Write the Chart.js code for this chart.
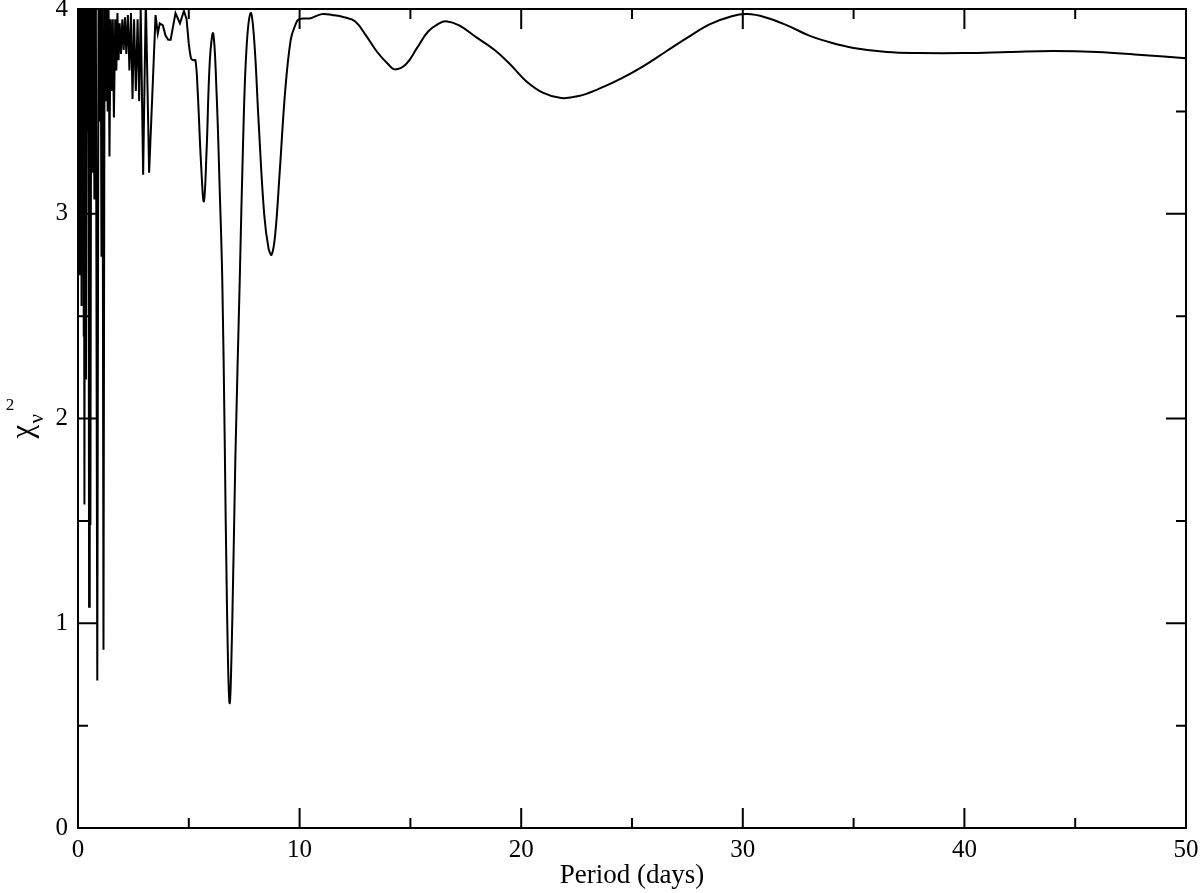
<!DOCTYPE html>
<html><head><meta charset="utf-8">
<script src="https://cdn.jsdelivr.net/npm/chart.js@4.4.1/dist/chart.umd.min.js"></script>
<style>html,body{margin:0;padding:0;background:#fff}#wrap{width:1200px;height:893px;position:relative}</style>
</head><body><div id="wrap"><canvas id="c"></canvas></div>
<script>
// Period (days)
const periods = [
 0.00,0.03,0.05,0.07,0.10,0.12,0.14,0.16,0.19,0.21,0.23,0.25,0.27,0.29,0.32,0.36,0.40,0.44,0.47,0.50,
 0.53,0.56,0.60,0.65,0.69,0.74,0.80,0.87,0.93,0.98,1.02,1.06,1.10,1.15,1.20,1.25,1.30,1.34,1.38,1.42,
 1.47,1.52,1.57,1.62,1.68,1.73,1.78,1.83,1.88,1.94,2.00,2.06,2.12,2.18,2.25,2.32,2.39,2.46,2.53,2.61,
 2.69,2.76,2.83,2.94,3.06,3.21,3.50,3.60,3.69,3.83,3.95,4.07,4.18,4.40,4.60,4.78,4.90,5.00,5.10,5.20,
 5.30,5.40,5.55,5.68,5.80,5.95,6.10,6.25,6.40,6.51,6.62,6.72,6.84,6.96,7.10,7.30,7.45,7.60,7.79,7.95,
 8.15,8.40,8.60,8.74,8.90,9.10,9.35,9.60,9.80,9.97,10.5,11.0,11.5,12.0,12.5,13.0,13.5,14.0,14.3,14.8,
 15.3,15.8,16.3,16.6,17.2,18.0,18.8,19.5,20.2,21.0,21.8,22.6,23.5,24.5,25.5,26.5,27.5,28.5,29.5,30.2,
 31.0,32.0,33.0,34.0,35.0,36.5,38.0,40.0,42.0,44.0,46.0,48.0,50.0
];
// Reduced chi-square
const chi2 = [
 4.30,3.40,4.30,2.70,4.30,3.00,4.30,2.55,4.30,3.10,4.30,2.40,4.30,1.58,4.30,2.19,4.30,3.40,4.30,1.08,
 4.30,1.48,4.30,3.20,4.30,3.07,4.30,0.72,4.30,3.45,4.20,2.79,4.30,0.87,4.10,3.55,4.05,3.50,4.00,3.28,
 3.95,3.60,3.95,3.47,3.95,3.70,3.98,3.75,3.93,3.78,3.95,3.80,3.96,3.78,3.97,3.70,3.98,3.56,3.95,3.60,
 3.95,3.55,4.00,3.19,4.05,3.20,3.97,3.88,3.93,3.92,3.87,3.85,3.85,3.98,3.93,3.99,3.95,3.83,3.76,3.75,
 3.75,3.60,3.25,3.06,3.30,3.75,3.88,3.60,3.10,2.68,1.90,1.10,0.61,1.00,1.80,2.68,3.35,3.80,3.98,3.85,
 3.45,3.00,2.83,2.80,2.90,3.20,3.60,3.85,3.92,3.95,3.955,3.975,3.97,3.96,3.94,3.87,3.79,3.73,3.705,3.73,
 3.81,3.89,3.93,3.94,3.92,3.86,3.80,3.73,3.65,3.59,3.565,3.575,3.61,3.66,3.72,3.79,3.86,3.925,3.965,3.975,
 3.96,3.92,3.87,3.835,3.81,3.79,3.785,3.785,3.79,3.795,3.79,3.775,3.76
];
// the dense, jagged short-period part is drawn with straight segments; the rest smoothly
const smoothFrom = 5.00;
const xMajorTicks = [0,10,20,30,40,50];
const xMinorTicks = [5,15,25,35,45];
const yMajorTicks = [0,1,2,3,4];
const yMinorTicks = [0.5,1.5,2.5,3.5];
const xTitle = 'Period (days)';

const SERIF = '"Liberation Serif", "DejaVu Serif", serif';

const framePlugin = {
  id: 'frame',
  afterDatasetsDraw(chart) {
    const ctx = chart.ctx, a = chart.chartArea;
    const xs = chart.scales.x, ys = chart.scales.y;
    ctx.save();
    ctx.strokeStyle = '#000';
    ctx.lineWidth = 2;
    ctx.strokeRect(a.left, a.top, a.right - a.left, a.bottom - a.top);
    ctx.beginPath();
    const tick = (v, len) => {
      const px = xs.getPixelForValue(v);
      ctx.moveTo(px, a.bottom); ctx.lineTo(px, a.bottom - len);
      ctx.moveTo(px, a.top); ctx.lineTo(px, a.top + len);
    };
    const ytick = (v, len) => {
      const py = ys.getPixelForValue(v);
      ctx.moveTo(a.left, py); ctx.lineTo(a.left + len, py);
      ctx.moveTo(a.right, py); ctx.lineTo(a.right - len, py);
    };
    xMajorTicks.forEach(v => tick(v, 20));
    xMinorTicks.forEach(v => tick(v, 10));
    yMajorTicks.forEach(v => ytick(v, 20));
    yMinorTicks.forEach(v => ytick(v, 10));
    ctx.stroke();

    // y-axis title: chi_nu^2
    const cy = (a.top + a.bottom) / 2;
    ctx.fillStyle = '#000';
    ctx.save();
    ctx.translate(32, cy + 20);
    ctx.rotate(-Math.PI / 2);
    ctx.textBaseline = 'alphabetic';
    ctx.textAlign = 'left';
    ctx.font = '31px ' + SERIF;
    ctx.fillText('χ', 0, 0);
    ctx.font = '21px ' + SERIF;
    ctx.fillText('ν', 15, 11);
    ctx.restore();
    ctx.font = '17px ' + SERIF;
    ctx.textAlign = 'center';
    ctx.textBaseline = 'middle';
    ctx.fillText('2', 10, cy - 13);
    ctx.restore();
  }
};

const allPts = periods.map((p, i) => ({x: p, y: chi2[i]}));
const jagged = allPts.filter(d => d.x <= smoothFrom);
const smooth = allPts.filter(d => d.x >= smoothFrom);

new Chart(document.getElementById('c'), {
  type: 'line',
  data: {
    datasets: [{
      data: jagged,
      borderColor: '#000',
      borderWidth: 2,
      pointRadius: 0,
      fill: false,
      tension: 0
    }, {
      data: smooth,
      borderColor: '#000',
      borderWidth: 2,
      pointRadius: 0,
      fill: false,
      tension: 0.4
    }]
  },
  options: {
    responsive: true,
    maintainAspectRatio: false,
    animation: false,
    devicePixelRatio: 1,
    layout: { padding: { left: 0, right: 14, top: 9, bottom: 0 } },
    plugins: { legend: { display: false }, tooltip: { enabled: false } },
    scales: {
      x: {
        type: 'linear', min: 0, max: 50,
        afterFit(s) { s.height = 65; s.paddingLeft = 0; s.paddingRight = 0; },
        afterBuildTicks(s) { s.ticks = xMajorTicks.map(v => ({value: v})); },
        grid: { display: false, drawTicks: false },
        border: { display: false },
        ticks: { color: '#000', padding: 7, maxRotation: 0, font: { family: SERIF, size: 25 } },
        title: { display: true, text: xTitle, color: '#000', padding: { top: 0, bottom: 1 }, font: { family: SERIF, size: 27 } }
      },
      y: {
        type: 'linear', min: 0, max: 4,
        afterFit(s) { s.width = 78; s.paddingTop = 0; s.paddingBottom = 0; },
        afterBuildTicks(s) { s.ticks = yMajorTicks.map(v => ({value: v})); },
        grid: { display: false, drawTicks: false },
        border: { display: false },
        ticks: { color: '#000', padding: 10, font: { family: SERIF, size: 25 } }
      }
    }
  },
  plugins: [framePlugin]
});
</script>
</body></html>
